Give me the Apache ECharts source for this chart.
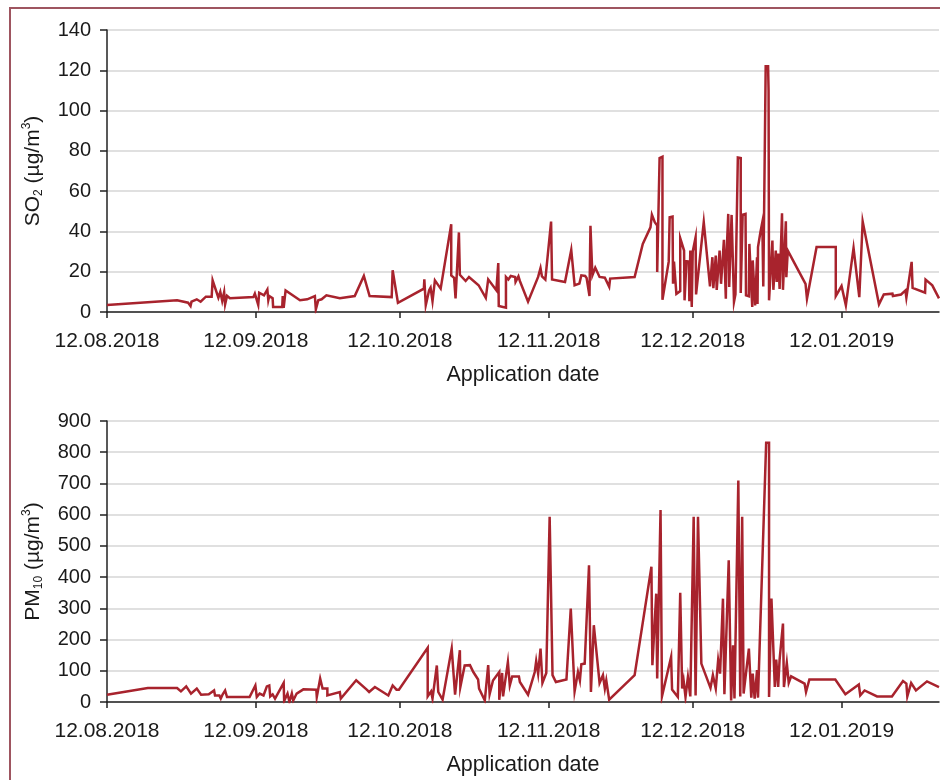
<!DOCTYPE html>
<html>
<head>
<meta charset="utf-8">
<title>SO2 and PM10 by application date</title>
<script src="https://cdn.jsdelivr.net/npm/echarts@6/dist/echarts.min.js"></script>
<style>
  html, body { margin: 0; padding: 0; background: #fff; }
  #frame {
    position: absolute; left: 9px; top: 7px; width: 960px; height: 800px;
    border-left: 2px solid #9e5560; border-top: 2px solid #9e5560;
  }
  #chart { position: absolute; left: 0; top: 0; width: 940px; height: 780px; }
</style>
</head>
<body>
<div id="frame"></div>
<div id="chart"></div>
<script>
// x is counted in days from the first application date
var START = [2018, 7, 12]
var END_DAY = 173.3
var tickDates = ['2018-08-12', '2018-09-12', '2018-10-12', '2018-11-12', '2018-12-12', '2019-01-12']

var so2Ticks = [0, 20, 40, 60, 80, 100, 120, 140]
var pm10Ticks = [0, 100, 200, 300, 400, 500, 600, 700, 800, 900]

// SO2 (µg/m3): day offset / value
var so2Days = [
  0, 14.6, 16.9, 17.4, 17.6, 18.7, 19.5, 20.6, 21.8, 22.0, 23.2, 23.6, 24.0, 24.4, 24.6, 25.0, 25.6,
  30.5, 30.8, 31.5, 31.7, 32.7, 33.4, 33.6, 33.8, 34.5, 34.6, 36.5, 36.6, 36.8, 37.2, 40.2, 41.7,
  43.3, 43.5, 44.0, 44.7, 45.7, 48.5, 51.6, 53.5, 54.7, 59.3, 59.5, 60.6,
  66.0, 66.1, 66.4, 67.1, 67.4, 67.8, 68.3, 69.5, 71.7, 71.7, 72.3, 72.6, 73.3, 73.5, 74.7, 75.4,
  77.4, 78.9, 79.4, 81.1, 81.5, 81.6, 83.1, 83.1, 83.6, 84.1, 85.0, 85.1, 85.7, 86.0, 87.7, 89.8,
  90.3, 90.6, 91.3, 92.5, 92.7, 95.4, 96.7, 97.4, 98.4, 98.8, 99.6, 99.9, 100.5, 100.7, 101.1,
  101.7, 102.6, 103.7, 104.6, 104.8, 109.9,
  111.6, 113.2, 113.5, 114.1, 114.6, 114.6, 115.1, 115.7, 115.7, 117.0, 117.2, 117.8, 117.9, 118.1,
  118.6, 119.4, 119.4, 120.2, 120.3, 120.7, 121.2, 121.3, 121.5, 121.8, 122.0, 122.6, 122.7, 124.3,
  125.6, 126.1, 126.3, 126.8, 127.0, 127.6, 127.8, 127.9, 128.5, 128.9, 129.0, 129.4, 129.6, 130.1,
  130.6, 130.9, 131.4, 132.0, 132.0, 132.4, 133.0, 133.1, 133.7, 133.8, 134.4, 134.5, 134.9, 135.0,
  135.4, 135.5, 135.6, 136.1, 136.5, 136.7, 137.2, 137.7, 137.8, 137.9, 138.6, 138.8, 139.3, 139.5,
  139.8, 140.1, 140.6, 140.8, 141.4, 141.5, 141.8, 145.5, 145.8, 147.8, 151.8, 151.8, 153.0, 153.9,
  155.5, 156.7, 157.4, 160.8, 161.8, 163.6, 163.7, 165.4, 166.3, 166.5, 167.6, 167.8, 170.4, 170.5,
  171.9, 173.3
]
var so2Values = [
  3.5, 5.8, 4.6, 3, 5.1, 6.3, 5.1, 7.6, 7.6, 15.7, 7.1, 10, 5.5, 9.9, 3.8, 8, 6.8,
  7.4, 9.1, 3.5, 9.6, 8.3, 11.2, 5.8, 7.9, 6.8, 2.5, 2.5, 7.9, 2.1, 10.7, 5.8, 6.3,
  7.9, 1.3, 5.8, 6.3, 8.3, 6.8, 7.9, 17.9, 7.9, 7.4, 20.7, 4.6,
  11.6, 16.2, 3.4, 10.8, 12.1, 5.4, 15.7, 11.6, 43.6, 18.2, 17, 6.7, 39.5, 18.5, 15.4, 17.4,
  13.3, 7, 16.2, 10.8, 24.3, 3, 2.1, 17.4, 16.1, 17.9, 17.4, 14.9, 17.7, 15.4, 5.1, 17.4,
  21.8, 17.7, 16.1, 44.9, 16.1, 14.9, 30.8, 13.3, 14.1, 18.2, 17.9, 16.9, 7.9, 42.8, 18.2,
  22, 17.4, 17, 12.5, 16.6, 17.4,
  33.8, 42, 48.3, 44.6, 42.9, 19.8, 76.4, 77.1, 6.1, 25, 47, 47.4, 14, 25,
  9, 10.4, 36.6, 30.5, 5.8, 25.2, 25, 5.4, 30.5, 2.5, 30, 37.1, 8.7, 44.6,
  12.7, 27.2, 11.8, 28, 11, 30.5, 29.7, 14, 35.8, 6.6, 25.6, 48.7, 12.4, 48.2,
  5, 8.7, 76.7, 76.4, 9.4, 48.3, 48.7, 8.3, 7.8, 33.8, 2.5, 25.6, 26.4, 3.3,
  27.2, 4, 32.2, 39.6, 44.6, 12.7, 122, 122, 110, 5.8, 35.5, 11, 30.5, 14.9,
  29, 11.5, 49, 11, 45, 17.3, 30.5, 14, 6.6, 32.3, 32.3, 7.9, 12.9, 3.3,
  31.8, 7.4, 45, 3.8, 8.7, 9.1, 7.9, 8.7, 10.7, 7.1, 24.9, 12, 9.6, 16.1,
  13.2, 6.8
]

// PM10 (µg/m3): day offset / value
var pm10Days = [
  0, 8.5, 14.6, 15.4, 16.5, 17.5, 18.7, 19.6, 21.2, 22.3, 22.5, 23.4, 23.7, 24.1, 24.6, 25.0, 29.7,
  30.9, 31.2, 31.8, 32.6, 33.3, 33.8, 34.0, 34.5, 35.0, 36.8, 36.9, 37.6, 38.0, 38.5, 38.8, 39.5,
  40.9, 43.6, 43.7, 44.4, 44.7, 44.9, 45.9, 45.9, 48.5, 48.7, 51.9, 54.1, 54.6, 55.8, 58.6, 59.5,
  60.3, 60.8, 66.8, 66.8, 67.5, 67.8, 68.7, 69.0, 69.9, 71.8, 72.5, 73.5, 73.6, 74.5, 75.6,
  76.3, 77.3, 77.5, 78.7, 79.4, 79.7, 80.4, 81.7, 81.7, 82.3, 82.5, 83.5, 83.9, 84.4, 85.8, 86.0,
  87.7, 89.1, 89.4, 89.8, 90.3, 90.7, 91.5, 92.2, 92.8, 93.5, 95.7, 96.6, 97.4, 98.1, 98.5, 98.8,
  99.5, 100.4, 100.8, 101.4, 102.6, 103.3, 103.7, 104.0, 104.6, 109.9, 113.4, 113.6, 114.4, 114.6,
  115.3, 115.6, 117.5, 117.7, 118.9, 119.4, 119.8, 120.1, 120.5, 121.0, 121.5, 122.2, 122.6, 123.1,
  123.8, 125.7, 126.2, 126.8, 127.3, 127.7, 128.3, 128.6, 129.5, 130.0, 130.4, 130.7, 131.5, 131.9,
  132.3, 132.6, 133.7, 134.2, 134.5, 134.9, 135.4, 135.6, 137.3, 137.9, 137.9, 138.4, 139.1, 139.4,
  139.8, 140.1, 140.8, 141.0, 141.6, 142.0, 142.5, 145.3, 145.6, 146.3, 151.7, 153.8, 156.6, 156.9,
  157.8, 160.4, 163.5, 165.8, 166.5, 166.7, 167.5, 168.5, 170.8, 173.3
]
var pm10Values = [
  23.5, 45, 45, 34, 50, 27, 43, 23.5, 24.6, 37, 21, 21, 11, 24.6, 37, 16, 16,
  53, 16, 27, 21, 50, 53, 18, 24.6, 11, 61, 3, 27, 0, 27, 5, 27,
  40.6, 39.5, 16, 75, 77, 43, 43, 21, 32, 11, 69.5, 39.5, 32, 48, 21, 53,
  39.5, 39.5, 174, 18, 34, 11, 117, 32, 7.5, 171, 23.5, 166, 48, 117, 118,
  96, 72, 43, 5, 118, 25, 69, 96, 7, 93, 18, 128, 53, 82, 82, 64,
  23.5, 96, 131, 91, 171, 61, 93, 593, 86, 64, 72, 299, 34, 96, 69, 121,
  123, 438, 32, 246, 61, 86, 43, 69, 7.5, 86, 433, 118, 347, 75,
  615, 18, 144, 40, 16, 350, 43, 69, 16, 80, 18, 593, 21, 593,
  123, 45, 86, 43, 134, 91, 331, 25, 454, 5, 182, 11, 709, 18,
  593, 27, 171, 14, 91, 11, 102, 14, 830, 830, 16, 331, 48, 136,
  48, 136, 251, 48, 125, 61, 82, 59, 32, 72, 72, 25, 56, 21,
  37, 18, 18, 67, 59, 18, 61, 37, 66, 48
]

var DAY = 86400000
var startMs = new Date(START[0], START[1], START[2]).getTime()
function pairs(days, vals) {
  return days.map(function (d, i) { return [d, vals[i]] })
}
function dayOf(s) {
  var p = s.split('-')
  return Math.round((new Date(+p[0], +p[1] - 1, +p[2]).getTime() - startMs) / DAY)
}
var tickDays = tickDates.map(dayOf)
function fmtDay(d) {
  var dt = new Date(startMs + Math.round(d) * DAY + DAY / 2)
  var dd = ('0' + dt.getDate()).slice(-2)
  var mm = ('0' + (dt.getMonth() + 1)).slice(-2)
  return dd + '.' + mm + '.' + dt.getFullYear()
}

var FONT = 'Liberation Sans, Arial, Helvetica, sans-serif'
var TEXT = '#1a1a1a'
var LINE = '#a8232d'

function xAxisFor(gridIndex) {
  return {
    type: 'value',
    gridIndex: gridIndex,
    min: 0,
    max: END_DAY,
    name: 'Application date',
    nameLocation: 'middle',
    nameGap: 52,
    nameTextStyle: { fontFamily: FONT, fontSize: 21.5, color: TEXT },
    axisLine: { onZero: false, lineStyle: { color: '#222', width: 1.5 } },
    axisTick: { show: true, length: 6, lineStyle: { color: '#222', width: 1.5 }, customValues: tickDays },
    axisLabel: {
      customValues: tickDays,
      formatter: fmtDay,
      fontFamily: FONT, fontSize: 21, color: TEXT, margin: 19
    },
    splitLine: { show: false }
  }
}

function yAxisFor(gridIndex, ticks, title, gap) {
  return {
    type: 'value',
    gridIndex: gridIndex,
    min: ticks[0],
    max: ticks[ticks.length - 1],
    interval: ticks[1] - ticks[0],
    name: title,
    nameLocation: 'middle',
    nameGap: gap,
    nameTextStyle: {
      fontFamily: FONT, color: TEXT,
      rich: {
        a: { fontFamily: FONT, fontSize: 21, lineHeight: 24, color: TEXT },
        b: { fontFamily: FONT, fontSize: 12, lineHeight: 12, color: TEXT, verticalAlign: 'bottom' },
        c: { fontFamily: FONT, fontSize: 12, lineHeight: 12, color: TEXT, verticalAlign: 'top' }
      }
    },
    axisLine: { show: true, onZero: false, lineStyle: { color: '#222', width: 1.5 } },
    axisTick: { show: true, length: 7, lineStyle: { color: '#222', width: 1.5 } },
    axisLabel: { fontFamily: FONT, fontSize: 20, color: TEXT, margin: 16 },
    splitLine: { show: true, lineStyle: { color: '#d6d6d6', width: 1.5 } }
  }
}

function seriesFor(index, data) {
  return {
    type: 'line',
    xAxisIndex: index,
    yAxisIndex: index,
    data: data,
    showSymbol: false,
    symbol: 'none',
    lineStyle: { color: LINE, width: 2.5, join: 'miter' },
    itemStyle: { color: LINE },
    animation: false
  }
}

var chart = echarts.init(document.getElementById('chart'), null, { renderer: 'canvas' })
chart.setOption({
  backgroundColor: 'transparent',
  animation: false,
  grid: [
    { left: 107, right: 1, top: 30, height: 282 },
    { left: 107, right: 1, top: 421, height: 281 }
  ],
  xAxis: [xAxisFor(0), xAxisFor(1)],
  yAxis: [
    yAxisFor(0, so2Ticks, '{a|SO}{b|2}{a| (µg/m}{c|3}{a|)}', 62),
    yAxisFor(1, pm10Ticks, '{a|PM}{b|10}{a| (µg/m}{c|3}{a|)}', 62)
  ],
  series: [
    seriesFor(0, pairs(so2Days, so2Values)),
    seriesFor(1, pairs(pm10Days, pm10Values))
  ]
})
</script>
</body>
</html>
